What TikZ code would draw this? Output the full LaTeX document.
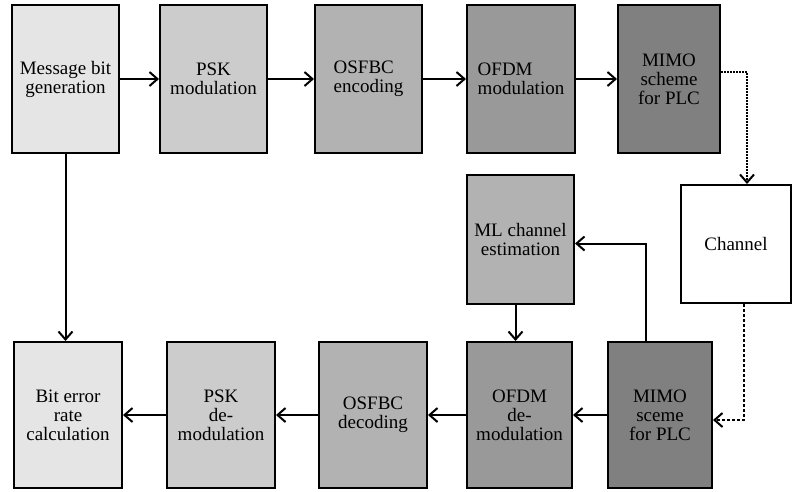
\documentclass[tikz,border=0pt]{standalone}
\usepackage{fontspec}
\setmainfont{Liberation Serif}
\usetikzlibrary{arrows.meta}

\begin{document}
\begin{tikzpicture}[x=1pt,y=-1pt,
    blk/.style={draw, line width=2pt, inner sep=2pt, align=center,
        font=\fontsize{19}{19}\selectfont},
    flow/.style={line width=2pt, -{Straight Barb[length=8pt,width=14pt]}}]
    \useasboundingbox (0,0) rectangle (792,491);
    % transmitter
    \node[blk, fill=black!10, minimum width=107, minimum height=148] (msg) at (65.5,79) {Message bit\\generation};
    \node[blk, fill=black!20, minimum width=107, minimum height=148] (psk) at (213.5,79) {PSK\\modulation};
    \node[blk, fill=black!30, minimum width=107, minimum height=148, align=left] (enc) at (368.5,79) {OSFBC\\encoding};
    \node[blk, fill=black!40, minimum width=108, minimum height=148, align=left] (ofdm) at (521,79) {OFDM\\modulation};
    \node[blk, fill=black!50, minimum width=102, minimum height=148] (mimo) at (669,79) {MIMO\\scheme\\for PLC};
    \node[blk, fill=white, minimum width=110, minimum height=118] (ch) at (736,244) {Channel};
    % receiver
    \node[blk, fill=black!30, minimum width=107, minimum height=129] (ml) at (520.5,239.5) {ML channel\\estimation};
    \node[blk, fill=black!10, minimum width=108, minimum height=146] (ber) at (68,415) {Bit error\\rate\\calculation};
    \node[blk, fill=black!20, minimum width=108, minimum height=146] (dpsk) at (221,415) {PSK\\de-\\modulation};
    \node[blk, fill=black!30, minimum width=108, minimum height=146] (dec) at (373,415) {OSFBC\\decoding};
    \node[blk, fill=black!40, minimum width=105, minimum height=146] (dofdm) at (519.5,415) {OFDM\\de-\\modulation};
    \node[blk, fill=black!50, minimum width=104, minimum height=146] (rmimo) at (660,415) {MIMO\\sceme\\for PLC};

    \draw[flow] (msg) -- (psk);
    \draw[flow] (psk) -- (enc);
    \draw[flow] (enc) -- (ofdm);
    \draw[flow] (ofdm) -- (mimo);
    \draw[flow, densely dotted] ([yshift=7pt]mimo.east) -| ([xshift=11pt]ch.north);
    \draw[flow, dash pattern=on 3pt off 2pt] ([xshift=8pt]ch.south) |- ([yshift=-5pt]rmimo.east);
    \draw[flow] ([xshift=-14pt]rmimo.north) |- ([yshift=-4pt]ml.east);
    \draw[flow] ([xshift=-5pt]ml.south) -- ([xshift=-5pt]ml.south |- dofdm.north);
    \draw[flow] (rmimo) -- (dofdm);
    \draw[flow] (dofdm) -- (dec);
    \draw[flow] (dec) -- (dpsk);
    \draw[flow] (dpsk) -- (ber);
    \draw[flow] (msg.south) -- (msg.south |- ber.north);
\end{tikzpicture}
\end{document}
